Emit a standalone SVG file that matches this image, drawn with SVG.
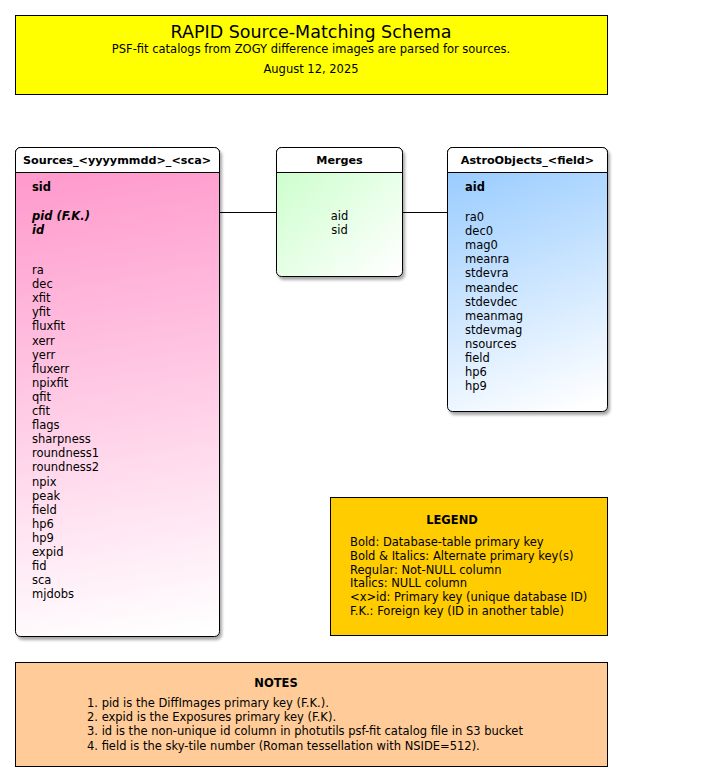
<svg xmlns="http://www.w3.org/2000/svg" width="704" height="782" viewBox="0 0 704 782">
<style>
text{font-family:"DejaVu Sans","Liberation Sans",Arial,sans-serif;fill:#000;}
.t{font-size:11.5px;}
.b{font-weight:bold;}
.bi{font-weight:bold;font-style:italic;}
.hdr{font-size:11.2px;font-weight:bold;text-anchor:middle;}
.box{stroke:#000;stroke-width:1;}
.tbl{stroke:#000;stroke-width:1;}
.conn{stroke:#000;stroke-width:1;fill:none;}
</style>
<defs>
<linearGradient id="gPink" gradientUnits="userSpaceOnUse" x1="15" y1="172" x2="95" y2="650">
<stop offset="0" stop-color="#FF99CC"/><stop offset="1" stop-color="#FFFFFF"/>
</linearGradient>
<linearGradient id="gGreen" gradientUnits="userSpaceOnUse" x1="276" y1="172" x2="380" y2="290">
<stop offset="0" stop-color="#CCFFCC"/><stop offset="1" stop-color="#FFFFFF"/>
</linearGradient>
<linearGradient id="gBlue" gradientUnits="userSpaceOnUse" x1="447" y1="172" x2="540" y2="425">
<stop offset="0" stop-color="#99CCFF"/><stop offset="1" stop-color="#FFFFFF"/>
</linearGradient>
<filter id="sh" x="-10%" y="-10%" width="130%" height="130%">
<feGaussianBlur in="SourceAlpha" stdDeviation="1.5"/>
<feOffset dx="2" dy="3" result="o"/>
<feComponentTransfer><feFuncA type="linear" slope="0.35"/></feComponentTransfer>
<feMerge><feMergeNode/><feMergeNode in="SourceGraphic"/></feMerge>
</filter>
</defs>
<rect width="704" height="782" fill="#fff"/>

<g id="title">
<rect class="box" x="15.5" y="15.5" width="592" height="79" fill="#FFFF00"/>
<text x="311" y="38" font-size="17.5" text-anchor="middle">RAPID Source-Matching Schema</text>
<text x="311" y="52.5" class="t" text-anchor="middle">PSF-fit catalogs from ZOGY difference images are parsed for sources.</text>
<text x="311" y="73" class="t" text-anchor="middle">August 12, 2025</text>
</g>

<g id="connectors">
<line class="conn" x1="219" y1="212.5" x2="276" y2="212.5"/>
<line class="conn" x1="402" y1="212.5" x2="447" y2="212.5"/>
</g>

<g id="sources">
<g filter="url(#sh)">
<rect class="tbl" x="15.5" y="147.5" width="204" height="489" rx="5" fill="url(#gPink)"/>
</g>
<path d="M15.5,172.5 V152.5 a5,5 0 0 1 5,-5 H214.5 a5,5 0 0 1 5,5 V172.5 Z" fill="#fff" stroke="#000"/>
<text x="117" y="164" class="hdr">Sources_&lt;yyyymmdd&gt;_&lt;sca&gt;</text>
<text x="32" y="191" class="t b">sid</text>
<text x="32" y="220" class="t bi">pid (F.K.)</text>
<text x="32" y="234" class="t bi">id</text>
<g class="t">
<text x="32" y="274">ra</text>
<text x="32" y="288.1">dec</text>
<text x="32" y="302.2">xfit</text>
<text x="32" y="316.3">yfit</text>
<text x="32" y="330.4">fluxfit</text>
<text x="32" y="344.5">xerr</text>
<text x="32" y="358.6">yerr</text>
<text x="32" y="372.7">fluxerr</text>
<text x="32" y="386.8">npixfit</text>
<text x="32" y="400.9">qfit</text>
<text x="32" y="415">cfit</text>
<text x="32" y="429.1">flags</text>
<text x="32" y="443.2">sharpness</text>
<text x="32" y="457.3">roundness1</text>
<text x="32" y="471.4">roundness2</text>
<text x="32" y="485.5">npix</text>
<text x="32" y="499.6">peak</text>
<text x="32" y="513.7">field</text>
<text x="32" y="527.8">hp6</text>
<text x="32" y="541.9">hp9</text>
<text x="32" y="556">expid</text>
<text x="32" y="570.1">fid</text>
<text x="32" y="584.2">sca</text>
<text x="32" y="598.3">mjdobs</text>
</g>
</g>

<g id="merges">
<g filter="url(#sh)">
<rect class="tbl" x="276.5" y="147.5" width="126" height="129" rx="5" fill="url(#gGreen)"/>
</g>
<path d="M276.5,172.5 V152.5 a5,5 0 0 1 5,-5 H397.5 a5,5 0 0 1 5,5 V172.5 Z" fill="#fff" stroke="#000"/>
<text x="339.5" y="164" class="hdr">Merges</text>
<text x="339.5" y="220" class="t" text-anchor="middle">aid</text>
<text x="339.5" y="234" class="t" text-anchor="middle">sid</text>
</g>

<g id="astroobjects">
<g filter="url(#sh)">
<rect class="tbl" x="447.5" y="147.5" width="160" height="264" rx="5" fill="url(#gBlue)"/>
</g>
<path d="M447.5,172.5 V152.5 a5,5 0 0 1 5,-5 H602.5 a5,5 0 0 1 5,5 V172.5 Z" fill="#fff" stroke="#000"/>
<text x="527.5" y="164" class="hdr">AstroObjects_&lt;field&gt;</text>
<text x="465" y="191" class="t b">aid</text>
<g class="t">
<text x="465" y="221">ra0</text>
<text x="465" y="235.1">dec0</text>
<text x="465" y="249.2">mag0</text>
<text x="465" y="263.3">meanra</text>
<text x="465" y="277.4">stdevra</text>
<text x="465" y="291.5">meandec</text>
<text x="465" y="305.6">stdevdec</text>
<text x="465" y="319.7">meanmag</text>
<text x="465" y="333.8">stdevmag</text>
<text x="465" y="347.9">nsources</text>
<text x="465" y="362">field</text>
<text x="465" y="376.1">hp6</text>
<text x="465" y="390.2">hp9</text>
</g>
</g>

<g id="legend">
<rect class="box" x="330.5" y="497.5" width="277" height="138" fill="#FFCC00"/>
<text x="452" y="524" class="t b" text-anchor="middle">LEGEND</text>
<g class="t">
<text x="350" y="546">Bold: Database-table primary key</text>
<text x="350" y="559.8">Bold &amp; Italics: Alternate primary key(s)</text>
<text x="350" y="573.6">Regular: Not-NULL column</text>
<text x="350" y="587.4">Italics: NULL column</text>
<text x="350" y="601.2">&lt;x&gt;id: Primary key (unique database ID)</text>
<text x="350" y="615">F.K.: Foreign key (ID in another table)</text>
</g>
</g>

<g id="notes">
<rect class="box" x="15.5" y="662.5" width="592" height="104" fill="#FFCC99"/>
<text x="276" y="687" class="t b" text-anchor="middle">NOTES</text>
<g class="t">
<text x="87" y="707">1. pid is the DiffImages primary key (F.K.).</text>
<text x="87" y="721">2. expid is the Exposures primary key (F.K).</text>
<text x="87" y="735">3. id is the non-unique id column in photutils psf-fit catalog file in S3 bucket</text>
<text x="87" y="750">4. field is the sky-tile number (Roman tessellation with NSIDE=512).</text>
</g>
</g>
</svg>
